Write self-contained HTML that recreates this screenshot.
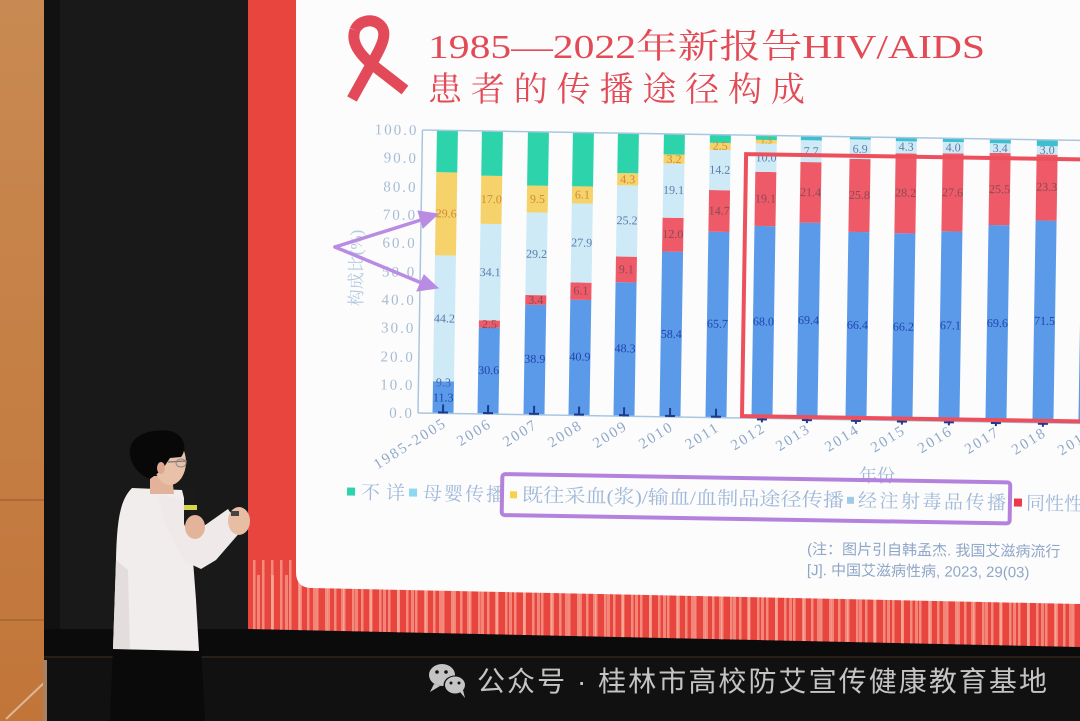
<!DOCTYPE html>
<html><head><meta charset="utf-8"><style>
html,body{margin:0;padding:0;background:#111;}
svg{display:block}
</style></head><body>
<svg width="1080" height="721" viewBox="0 0 1080 721" xmlns="http://www.w3.org/2000/svg">
<defs>
<linearGradient id="wall" x1="0" y1="0" x2="0" y2="1"><stop offset="0" stop-color="#c88a52"/><stop offset="1" stop-color="#c27539"/></linearGradient>
<pattern id="st1" width="9" height="80" patternUnits="userSpaceOnUse"><rect x="1" y="0" width="2.5" height="80" fill="#f7a898" opacity="0.7"/></pattern>
<pattern id="st2" width="14" height="80" patternUnits="userSpaceOnUse" x="5"><rect x="0" y="0" width="3" height="80" fill="#f9b8a8" opacity="0.55"/></pattern>
</defs>

<rect x="0" y="0" width="1080" height="721" fill="#121111"/>
<rect x="44" y="629" width="1036" height="28" fill="#0b0b0b"/>
<line x1="44" y1="657" x2="1080" y2="657" stroke="#33261e" stroke-width="1.5"/>

<rect x="0" y="0" width="44" height="721" fill="url(#wall)"/>
<line x1="0" y1="500" x2="44" y2="500" stroke="#a86534" stroke-width="1.5"/>
<line x1="0" y1="620" x2="44" y2="620" stroke="#a86534" stroke-width="1.5"/>
<line x1="6" y1="719" x2="46" y2="681" stroke="#dcb797" stroke-width="2"/>
<rect x="43" y="660" width="4" height="61" fill="#a88062"/>

<rect x="44" y="0" width="206" height="629" fill="#1a1919"/>
<rect x="44" y="0" width="16" height="629" fill="#111"/>

<polygon points="248,0 1080,0 1080,647 248,629" fill="#e9453f"/>
<polygon points="248,560 1080,560 1080,647 248,629" fill="url(#st1)"/>
<polygon points="248,575 1080,575 1080,647 248,629" fill="url(#st2)"/>

<path d="M296,0 H1080 V604 L312,588 Q296,588 296,572 Z" fill="#fcfcfd"/>

<g fill="none" stroke="#e24a5a" stroke-width="11" stroke-linecap="butt">
<path d="M352,99 L372,63 C382,46 389,32 379,24 C371,18 359,21 355,30"/>
<path d="M355,30 C351,41 358,52 369,62 L405,90"/>
</g>

<g fill="#e24b56" font-family="'Liberation Serif','Noto Serif CJK SC',serif" font-size="34">
<text x="428" y="58" textLength="557" lengthAdjust="spacingAndGlyphs">1985—2022年新报告HIV/AIDS</text>
<text x="428" y="101" textLength="377" lengthAdjust="spacing">患者的传播途径构成</text>
</g>

<text transform="translate(362,268) rotate(-90)" text-anchor="middle" font-family="'Liberation Serif','Noto Serif CJK SC',serif" font-size="17" fill="#b3cae0">构成比(%)</text>

<g transform="rotate(0.9 418 413)">
<g font-family="'Liberation Serif',serif" font-size="15" fill="#a6bcd4" text-anchor="end" letter-spacing="2">
<text x="414" y="135">100.0</text>
<text x="414" y="163">90.0</text>
<text x="414" y="192">80.0</text>
<text x="414" y="220">70.0</text>
<text x="414" y="248">60.0</text>
<text x="414" y="277">50.0</text>
<text x="414" y="305">40.0</text>
<text x="414" y="333">30.0</text>
<text x="414" y="362">20.0</text>
<text x="414" y="390">10.0</text>
<text x="414" y="418">0.0</text>
</g>

<g>
<rect x="432.5" y="381" width="21" height="32" fill="#5b9ae8"/>
<rect x="432.5" y="255.1" width="21" height="125.9" fill="#cdeaf6"/>
<rect x="432.5" y="171.9" width="21" height="83.2" fill="#f6d36a"/>
<rect x="432.5" y="130" width="21" height="41.9" fill="#2dd4ab"/>

<rect x="477.5" y="326.4" width="21" height="86.6" fill="#5b9ae8"/>
<rect x="477.5" y="319.3" width="21" height="7.1" fill="#ee5a67"/>
<rect x="477.5" y="222.8" width="21" height="96.5" fill="#cdeaf6"/>
<rect x="477.5" y="174.7" width="21" height="48.1" fill="#f6d36a"/>
<rect x="477.5" y="130" width="21" height="44.7" fill="#2dd4ab"/>

<rect x="523.5" y="302.9" width="21" height="110.1" fill="#5b9ae8"/>
<rect x="523.5" y="293.3" width="21" height="9.6" fill="#ee5a67"/>
<rect x="523.5" y="210.7" width="21" height="82.6" fill="#cdeaf6"/>
<rect x="523.5" y="183.8" width="21" height="26.9" fill="#f6d36a"/>
<rect x="523.5" y="130" width="21" height="53.8" fill="#2dd4ab"/>

<rect x="568.5" y="297.3" width="21" height="115.7" fill="#5b9ae8"/>
<rect x="568.5" y="280" width="21" height="17.3" fill="#ee5a67"/>
<rect x="568.5" y="201" width="21" height="79" fill="#cdeaf6"/>
<rect x="568.5" y="183.8" width="21" height="17.2" fill="#f6d36a"/>
<rect x="568.5" y="130" width="21" height="53.8" fill="#2dd4ab"/>

<rect x="613.5" y="279.1" width="21" height="133.9" fill="#5b9ae8"/>
<rect x="613.5" y="253.4" width="21" height="25.7" fill="#ee5a67"/>
<rect x="613.5" y="182.1" width="21" height="71.3" fill="#cdeaf6"/>
<rect x="613.5" y="169.9" width="21" height="12.2" fill="#f6d36a"/>
<rect x="613.5" y="130" width="21" height="39.9" fill="#2dd4ab"/>

<rect x="659.5" y="247.7" width="21" height="165.3" fill="#5b9ae8"/>
<rect x="659.5" y="213.8" width="21" height="33.9" fill="#ee5a67"/>
<rect x="659.5" y="159.7" width="21" height="54.1" fill="#cdeaf6"/>
<rect x="659.5" y="150.6" width="21" height="9.1" fill="#f6d36a"/>
<rect x="659.5" y="130" width="21" height="20.6" fill="#2dd4ab"/>

<rect x="705.5" y="227.1" width="21" height="185.9" fill="#5b9ae8"/>
<rect x="705.5" y="185.5" width="21" height="41.6" fill="#ee5a67"/>
<rect x="705.5" y="145.3" width="21" height="40.2" fill="#cdeaf6"/>
<rect x="705.5" y="138.2" width="21" height="7.1" fill="#f6d36a"/>
<rect x="705.5" y="130" width="21" height="8.2" fill="#2dd4ab"/>

<rect x="751.5" y="220.6" width="21" height="192.4" fill="#5b9ae8"/>
<rect x="751.5" y="166.5" width="21" height="54.1" fill="#ee5a67"/>
<rect x="751.5" y="138.2" width="21" height="28.3" fill="#cdeaf6"/>
<rect x="751.5" y="134.5" width="21" height="3.7" fill="#f6d36a"/>
<rect x="751.5" y="130" width="21" height="4.5" fill="#2dd4ab"/>

<rect x="796.5" y="216.6" width="21" height="196.4" fill="#5b9ae8"/>
<rect x="796.5" y="156" width="21" height="60.6" fill="#ee5a67"/>
<rect x="796.5" y="134.2" width="21" height="21.8" fill="#cdeaf6"/>
<rect x="796.5" y="130" width="21" height="4.2" fill="#3cc0d0"/>

<rect x="845.5" y="225.1" width="21" height="187.9" fill="#5b9ae8"/>
<rect x="845.5" y="152.1" width="21" height="73" fill="#ee5a67"/>
<rect x="845.5" y="132.5" width="21" height="19.6" fill="#cdeaf6"/>
<rect x="845.5" y="130" width="21" height="2.5" fill="#3cc0d0"/>

<rect x="891.5" y="225.7" width="21" height="187.3" fill="#5b9ae8"/>
<rect x="891.5" y="145.8" width="21" height="79.9" fill="#ee5a67"/>
<rect x="891.5" y="133.7" width="21" height="12.1" fill="#cdeaf6"/>
<rect x="891.5" y="130" width="21" height="3.7" fill="#3cc0d0"/>

<rect x="938.5" y="223.1" width="21" height="189.9" fill="#5b9ae8"/>
<rect x="938.5" y="145" width="21" height="78.1" fill="#ee5a67"/>
<rect x="938.5" y="133.7" width="21" height="11.3" fill="#cdeaf6"/>
<rect x="938.5" y="130" width="21" height="3.7" fill="#3cc0d0"/>

<rect x="985.5" y="216" width="21" height="197" fill="#5b9ae8"/>
<rect x="985.5" y="143.9" width="21" height="72.1" fill="#ee5a67"/>
<rect x="985.5" y="134.2" width="21" height="9.7" fill="#cdeaf6"/>
<rect x="985.5" y="130" width="21" height="4.2" fill="#3cc0d0"/>

<rect x="1032.5" y="210.7" width="21" height="202.3" fill="#5b9ae8"/>
<rect x="1032.5" y="144.7" width="21" height="66" fill="#ee5a67"/>
<rect x="1032.5" y="136.2" width="21" height="8.5" fill="#cdeaf6"/>
<rect x="1032.5" y="130" width="21" height="6.2" fill="#3cc0d0"/>

<rect x="1078.5" y="205" width="21" height="208" fill="#5b9ae8"/>
<rect x="1078.5" y="145" width="21" height="60" fill="#ee5a67"/>
<rect x="1078.5" y="136" width="21" height="9" fill="#cdeaf6"/>
<rect x="1078.5" y="130" width="21" height="6" fill="#3cc0d0"/>
</g>

<g stroke="#a9c6e0" stroke-width="1.5" fill="none">
<line x1="418" y1="130" x2="1110" y2="130"/>
<line x1="418" y1="130" x2="418" y2="413"/>
<line x1="418" y1="413" x2="1110" y2="413"/>
</g>

<g fill="#1d3a8c">
<rect x="442" y="404" width="2" height="9"/><rect x="438" y="411" width="10" height="2"/>
<rect x="487" y="404" width="2" height="9"/><rect x="483" y="411" width="10" height="2"/>
<rect x="533" y="404" width="2" height="9"/><rect x="529" y="411" width="10" height="2"/>
<rect x="578" y="404" width="2" height="9"/><rect x="574" y="411" width="10" height="2"/>
<rect x="623" y="404" width="2" height="9"/><rect x="619" y="411" width="10" height="2"/>
<rect x="669" y="404" width="2" height="9"/><rect x="665" y="411" width="10" height="2"/>
<rect x="715" y="404" width="2" height="9"/><rect x="711" y="411" width="10" height="2"/>
<rect x="761" y="411" width="2" height="6"/><rect x="757" y="413" width="10" height="2"/>
<rect x="806" y="411" width="2" height="6"/><rect x="802" y="413" width="10" height="2"/>
<rect x="855" y="411" width="2" height="6"/><rect x="851" y="413" width="10" height="2"/>
<rect x="901" y="411" width="2" height="6"/><rect x="897" y="413" width="10" height="2"/>
<rect x="948" y="411" width="2" height="6"/><rect x="944" y="413" width="10" height="2"/>
<rect x="995" y="411" width="2" height="6"/><rect x="991" y="413" width="10" height="2"/>
<rect x="1042" y="411" width="2" height="6"/><rect x="1038" y="413" width="10" height="2"/>
</g>

<g font-family="'Liberation Serif',serif" font-size="12" text-anchor="middle">
<g fill="#1f43b0">
<text x="443" y="401">11.3</text>
<text x="488" y="373">30.6</text>
<text x="534" y="361">38.9</text>
<text x="579" y="358">40.9</text>
<text x="624" y="349">48.3</text>
<text x="670" y="334">58.4</text>
<text x="716" y="323">65.7</text>
<text x="762" y="320">68.0</text>
<text x="807" y="318">69.4</text>
<text x="856" y="322">66.4</text>
<text x="902" y="323">66.2</text>
<text x="949" y="321">67.1</text>
<text x="996" y="318">69.6</text>
<text x="1043" y="315">71.5</text>
</g>
<g fill="#8a4a56">
<text x="443" y="386" fill="#4b62a8">9.3</text>
<text x="488" y="327">2.5</text>
<text x="534" y="302">3.4</text>
<text x="579" y="292">6.1</text>
<text x="624" y="270">9.1</text>
<text x="670" y="234">12.0</text>
<text x="716" y="210">14.7</text>
<text x="762" y="197">19.1</text>
<text x="807" y="190">21.4</text>
<text x="856" y="192">25.8</text>
<text x="902" y="189">28.2</text>
<text x="949" y="188">27.6</text>
<text x="996" y="184">25.5</text>
<text x="1043" y="181">23.3</text>
</g>
<g fill="#5c7cac">
<text x="443" y="322">44.2</text>
<text x="488" y="275">34.1</text>
<text x="534" y="256">29.2</text>
<text x="579" y="244">27.9</text>
<text x="624" y="221">25.2</text>
<text x="670" y="190">19.1</text>
<text x="716" y="169">14.2</text>
<text x="762" y="156">10.0</text>
<text x="807" y="149">7.7</text>
<text x="856" y="146">6.9</text>
<text x="902" y="143">4.3</text>
<text x="949" y="143">4.0</text>
<text x="996" y="143">3.4</text>
<text x="1043" y="144">3.0</text>
</g>
<g fill="#cc8b3a">
<text x="443" y="217">29.6</text>
<text x="488" y="202">17.0</text>
<text x="534" y="201">9.5</text>
<text x="579" y="196">6.1</text>
<text x="624" y="180">4.3</text>
<text x="670" y="159">3.2</text>
<text x="716" y="145">2.5</text>
<text x="762" y="138" font-size="9">1.3</text>
</g>
</g>

<rect x="742" y="149" width="370" height="262" fill="none" stroke="#ee4f5c" stroke-width="4"/>

<g font-family="'Liberation Serif',serif" font-size="15" fill="#8fa8c8" text-anchor="end" letter-spacing="2">
<text transform="translate(448,425) rotate(-33)">1985-2005</text>
<text transform="translate(493,425) rotate(-33)">2006</text>
<text transform="translate(539,425) rotate(-33)">2007</text>
<text transform="translate(584,425) rotate(-33)">2008</text>
<text transform="translate(629,425) rotate(-33)">2009</text>
<text transform="translate(675,425) rotate(-33)">2010</text>
<text transform="translate(721,425) rotate(-33)">2011</text>
<text transform="translate(767,425) rotate(-33)">2012</text>
<text transform="translate(812,425) rotate(-33)">2013</text>
<text transform="translate(861,425) rotate(-33)">2014</text>
<text transform="translate(907,425) rotate(-33)">2015</text>
<text transform="translate(954,425) rotate(-33)">2016</text>
<text transform="translate(1001,425) rotate(-33)">2017</text>
<text transform="translate(1048,425) rotate(-33)">2018</text>
<text transform="translate(1094,425) rotate(-33)">2019</text>
</g>
</g>

<text x="859" y="482" font-family="'Liberation Serif','Noto Serif CJK SC',serif" font-size="18" fill="#9fb8d8">年份</text>

<g transform="rotate(0.94 680 497)" font-family="'Liberation Serif','Noto Serif CJK SC',serif" font-size="19" fill="#9fb8d8">
<rect x="347" y="493" width="8" height="8" fill="#2dd4ab"/>
<text x="361" y="504" textLength="44" lengthAdjust="spacing">不详</text>
<rect x="409" y="493" width="8" height="8" fill="#8fd6ef"/>
<text x="423" y="504" textLength="82" lengthAdjust="spacing">母婴传播</text>
<rect x="510" y="494" width="7" height="7" fill="#f5d24a"/>
<text x="522" y="504" textLength="322" lengthAdjust="spacingAndGlyphs">既往采血(浆)/输血/血制品途径传播</text>
<rect x="847" y="494" width="7" height="7" fill="#9fcbe8"/>
<text x="858" y="504" textLength="148" lengthAdjust="spacing">经注射毒品传播</text>
<rect x="1014" y="493" width="8" height="8" fill="#e83a48"/>
<text x="1026" y="504">同性性传播</text>
<rect x="502" y="477" width="508" height="41" rx="3" fill="none" stroke="#b482dc" stroke-width="4"/>
</g>

<g transform="rotate(0.6 900 560)" font-family="'Liberation Sans','Noto Sans CJK SC',sans-serif" font-size="15" fill="#90a6c6">
<text x="807" y="555">(注：图片引自韩孟杰. 我国艾滋病流行</text>
<text x="807" y="576">[J]. 中国艾滋病性病, 2023, 29(03)</text>
</g>

<g stroke="#b98be2" stroke-width="3.5" fill="#b98be2" stroke-linecap="round">
<line x1="335" y1="247" x2="424" y2="219"/>
<line x1="335" y1="247" x2="424" y2="284"/>
<polygon points="438,214 418,211 423,228" stroke-width="1"/>
<polygon points="438,288 417,291 424,275" stroke-width="1"/>
</g>

<g>
<polygon points="113,645 201,645 205,721 110,721" fill="#0a0a0a"/>
<path d="M132,488 C120,500 117,520 116,560 L113,649 L199,651 L196,600 L193,560 L190,522 L182,490 Z" fill="#f2eded"/>
<path d="M116,560 L113,649 L130,649 L128,570 Z" fill="#e4dddd"/>
<polygon points="158,494 186,500 201,528 228,509 242,530 216,560 201,569 184,561 164,522" fill="#efe9ea"/>
<ellipse cx="239" cy="521" rx="11" ry="14" fill="#e7bda4"/>
<rect x="231" y="511" width="8" height="5" fill="#444"/>
<rect x="184" y="488" width="13" height="40" rx="5" fill="#1a1a1a"/>
<rect x="184" y="505" width="13" height="5" fill="#d6d648"/>
<ellipse cx="195" cy="527" rx="10" ry="12" fill="#e3b49a"/>
<polygon points="150,476 172,476 174,494 150,494" fill="#e2b39a"/>
<ellipse cx="170" cy="462" rx="16" ry="23" fill="#e9c0a8"/>
<path d="M130,455 C127,436 150,428 170,431 C186,435 187,450 181,457 L170,458 L162,470 L150,479 C138,474 132,466 130,455 Z" fill="#080808"/>
<ellipse cx="161" cy="468" rx="4" ry="6" fill="#dca88e"/>
<line x1="168" y1="462" x2="187" y2="461" stroke="#777" stroke-width="1.2"/>
<ellipse cx="181" cy="463" rx="5" ry="4" fill="none" stroke="#888" stroke-width="1"/>
</g>

<g fill="#c4c4c4">
<ellipse cx="442" cy="675" rx="13" ry="11"/>
<polygon points="434,684 430,692 440,686"/>
<ellipse cx="455" cy="685" rx="11.5" ry="9.5" fill="#121111"/>
<ellipse cx="455" cy="685" rx="10" ry="8.5"/>
<polygon points="460,692 465,698 463,690"/>
<circle cx="437" cy="672" r="1.8" fill="#121111"/>
<circle cx="446" cy="672" r="1.8" fill="#121111"/>
<circle cx="451" cy="683" r="1.5" fill="#121111"/>
<circle cx="459" cy="683" r="1.5" fill="#121111"/>
</g>
<text x="477" y="691" font-family="'Liberation Sans','Noto Sans CJK SC',sans-serif" font-size="28" fill="#c4c4c4" textLength="570" lengthAdjust="spacing">公众号 · 桂林市高校防艾宣传健康教育基地</text>
</svg>
</body></html>
